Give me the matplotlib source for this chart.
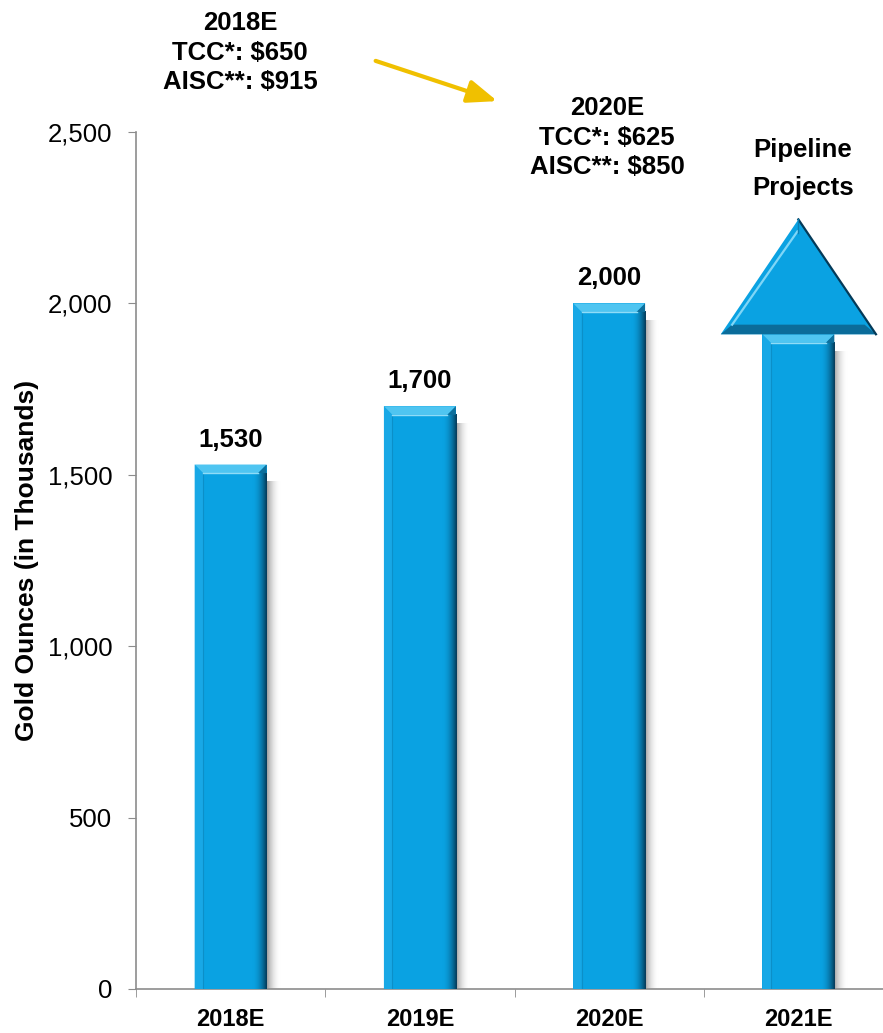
import numpy as np
import matplotlib
matplotlib.use('Agg')
import matplotlib.pyplot as plt
from matplotlib.patches import Polygon
from matplotlib.colors import to_rgb

plt.rcParams['font.family'] = ['Liberation Sans', 'DejaVu Sans']

years = ['2018E', '2019E', '2020E', '2021E']
ounces = [1530, 1700, 2000, 1910]          # 2021E shaft runs up under the arrow head
value_labels = ['1,530', '1,700', '2,000', None]
arrow_tip = 2245                            # apex of the "pipeline" arrow head
yticks = [0, 500, 1000, 1500, 2000, 2500]

# text blocks above the plot: lines, centre x (px), baselines (px)
cost_notes = [
    (['2018E', 'TCC*: $650', 'AISC**: $915'], 240, [30, 60, 89]),
    (['2020E', 'TCC*: $625', 'AISC**: $850'], 607, [115, 145, 174]),
    (['Pipeline', 'Projects'], 803, [157, 195]),
]

BLUE = '#0aa2e2'
DARK = '#043a58'
LIGHT = '#4fc5f1'

W, H = 883, 1033
fig = plt.figure(figsize=(W / 100, H / 100), dpi=100)
ax = fig.add_axes([136 / W, 1 - 989 / H, 757 / W, 857 / H])

x = np.arange(len(years))
bars = ax.bar(x, ounces, width=0.38, color=BLUE, zorder=3)


def hgrad(ax, x0, x1, y0, y1, c0, a0, c1, a1, z):
    # horizontal colour ramp drawn as a tiny image
    n = 32
    t = np.linspace(0, 1, n)
    r0, r1 = np.array(to_rgb(c0)), np.array(to_rgb(c1))
    img = np.zeros((1, n, 4))
    img[0, :, :3] = r0[None, :] * (1 - t[:, None]) + r1[None, :] * t[:, None]
    img[0, :, 3] = a0 * (1 - t) + a1 * t
    ax.imshow(img, extent=(x0, x1, y0, y1), aspect='auto', interpolation='bilinear',
              zorder=z, origin='lower')


bx, by = 0.045, 25
for b in bars:
    x0, w, h = b.get_x(), b.get_width(), b.get_height()
    x1 = x0 + w
    # soft drop shadow on the right
    hgrad(ax, x1, x1 + 0.07, 0, h - 2 * by, '#6e6e6e', 0.65, '#ffffff', 0.0, 2)
    # dark right edge
    hgrad(ax, x1 - 0.075, x1, 0, h - by, BLUE, 0.0, DARK, 1.0, 4)
    # left bevel
    ax.add_patch(Polygon([(x0, 0), (x0, h), (x0 + bx, h - by), (x0 + bx, 0)],
                         closed=True, fc='#18a8e6', ec='none', zorder=4))
    ax.plot([x0 + bx, x0 + bx], [0, h - by], color='#0b8fc8', lw=0.8, zorder=4)
    # top bevel
    ax.add_patch(Polygon([(x0, h), (x1, h), (x1 - bx, h - by), (x0 + bx, h - by)],
                         closed=True, fc=LIGHT, ec='none', zorder=5))
    ax.add_patch(Polygon([(x1 - bx, h - by), (x1, h), (x1, h - by)],
                         closed=True, fc='#0d6f9c', ec='none', zorder=5))
    ax.plot([x0 + bx, x1 - bx], [h - by, h - by], color='#8fdcf7', lw=1.0, zorder=5)

for xi, h, lab in zip(x, ounces, value_labels):
    if lab:
        ax.annotate(lab, (xi, h), xytext=(0, 18), textcoords='offset points',
                    ha='center', va='center', fontsize=18.5, fontweight='bold', zorder=6)

# arrow head for pipeline projects on the last bar
xc, base = x[-1], ounces[-1]
hw = 0.41
tri = [(xc - hw, base), (xc + hw, base), (xc, arrow_tip)]
ax.add_patch(Polygon(tri, closed=True, fc=BLUE, ec='none', zorder=6))
ax.add_patch(Polygon([(xc - hw, base), (xc + hw, base), (xc + hw - 0.06, base + 28),
                      (xc - hw + 0.06, base + 28)], closed=True, fc='#0b6c9a', ec='none', zorder=7))
ax.plot([xc, xc + hw], [arrow_tip, base], color=DARK, lw=1.6, zorder=7)
ax.plot([xc - hw + 0.06, xc - 0.005], [base + 28, arrow_tip - 35], color='#7fd6f7', lw=1.6, zorder=7)
ax.plot([xc, xc], [arrow_tip, arrow_tip - 40], color='#0b7fb4', lw=1.0, zorder=7)

ax.set_xlim(-0.5, 3.5)
ax.set_ylim(0, 2500)
ax.set_yticks(yticks)
ax.set_yticklabels([f'{v:,}' for v in yticks], fontsize=18.5)
ax.set_xticks(x)
ax.set_xticklabels(years, fontsize=17, fontweight='bold')
ax.set_xticks(np.arange(-0.5, 4.0, 1.0), minor=True)
ax.tick_params(axis='x', which='major', length=0, pad=14)
ax.tick_params(axis='x', which='minor', length=6, color='#8c8c8c', direction='out')
ax.tick_params(axis='y', length=6, color='#8c8c8c', pad=11)
for s in ['top', 'right']:
    ax.spines[s].set_visible(False)
for s in ['left', 'bottom']:
    ax.spines[s].set_color('#8c8c8c')
    ax.spines[s].set_linewidth(1.2)
ax.set_ylabel('Gold Ounces (in Thousands)', fontsize=19, fontweight='bold', labelpad=6)

for lines, px, pys in cost_notes:
    for line, py in zip(lines, pys):
        fig.text(px / W, 1 - py / H, line, ha='center', va='baseline',
                 fontsize=18.5, fontweight='bold')

ax.annotate('', xy=(500 / W, 1 - 102 / H), xytext=(373 / W, 1 - 60 / H),
            xycoords='figure fraction', textcoords='figure fraction',
            arrowprops=dict(arrowstyle='-|>,head_length=1.8,head_width=0.7',
                            color='#f0c000', lw=3))

fig.savefig('out.png', dpi=100)
